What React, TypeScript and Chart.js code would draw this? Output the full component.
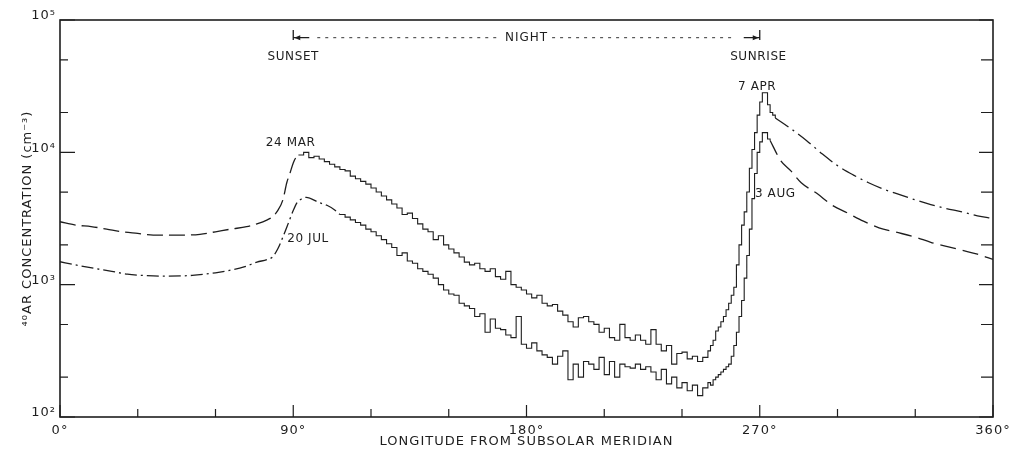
import React, { useEffect, useRef } from "react";
import { Chart, registerables } from "chart.js";

Chart.register(...registerables);

// ---- Data (longitude in degrees from subsolar meridian, 40Ar concentration in cm^-3) ----

// 24 MAR model curve (day side, before sunset)
const MAR_MODEL_LON = [0, 6, 12, 18, 24, 30, 36, 42, 48, 54, 60, 66, 72, 76, 80, 82, 84, 86, 87.5, 88.7, 90, 91, 92];
const MAR_MODEL_CONC = [2990, 2820, 2750, 2630, 2510, 2440, 2370, 2370, 2370, 2400, 2510, 2630, 2740, 2880, 3090, 3260, 3630, 4370, 5890, 6920, 8320, 9120, 9550];

// 24 MAR -> 7 APR measured (night side) histogram
const MAR_HIST_LON = [
  92, 94, 96, 98, 100, 102, 104, 106, 108, 110, 112, 114, 116, 118, 120, 122, 124, 126, 128, 130,
  132, 134, 136, 138, 140, 142, 144, 146, 148, 150, 152, 154, 156, 158, 160, 162, 164, 166, 168, 170,
  172, 174, 176, 178, 180, 182, 184, 186, 188, 190, 192, 194, 196, 198, 200, 202, 204, 206, 208, 210,
  212, 214, 216, 218, 220, 222, 224, 226, 228, 230, 232, 234, 236, 238, 240, 242, 244, 246, 248,
  250, 251, 252, 253, 254, 255, 256, 257, 258, 259, 260, 261, 262, 263, 264, 265, 266, 267, 268, 269,
  270, 271, 272, 273, 274, 275, 276,
];
const MAR_HIST_CONC = [
  9550, 10000, 9120, 9330, 8910, 8510, 8130, 7760, 7410, 7240, 6610, 6310, 6030, 5750, 5370, 5010, 4680, 4370, 4070, 3800,
  3390, 3470, 3160, 2880, 2630, 2510, 2190, 2340, 2000, 1860, 1740, 1620, 1480, 1410, 1450, 1320, 1260, 1320, 1150, 1100,
  1260, 1000, 955, 912, 851, 794, 832, 724, 692, 708, 631, 589, 525, 479, 562, 575, 525, 501, 437, 468,
  398, 380, 501, 398, 380, 417, 380, 355, 457, 355, 316, 347, 251, 302, 309, 275, 288, 263, 282,
  316, 347, 380, 447, 479, 525, 575, 646, 724, 832, 955, 1410, 2000, 2820, 3550, 5010, 7590, 10500, 14100, 19100,
  24000, 28200, 28200, 22900, 20000, 19100, 18200,
];

// 7 APR model curve (after sunrise)
const APR_MODEL_LON = [276, 282, 288, 294, 300, 306, 312, 318, 324, 330, 336, 342, 348, 354, 360];
const APR_MODEL_CONC = [18200, 15100, 12300, 9770, 7940, 6760, 5890, 5250, 4790, 4370, 4030, 3760, 3550, 3310, 3160];

// 20 JUL model curve (day side, before sunset)
const JUL_MODEL_LON = [0, 6, 13, 20, 26, 32, 40, 51, 60, 66, 71, 76, 80, 82, 84, 86, 88, 89, 90, 91.5, 93, 95, 100, 103, 106, 108];
const JUL_MODEL_CONC = [1490, 1410, 1330, 1260, 1200, 1175, 1160, 1175, 1230, 1290, 1360, 1480, 1550, 1620, 1860, 2290, 2880, 3240, 3630, 4170, 4420, 4570, 4170, 3980, 3670, 3390];

// 20 JUL -> 3 AUG measured (night side) histogram
const JUL_HIST_LON = [
  108, 110, 112, 114, 116, 118, 120, 122, 124, 126, 128, 130, 132, 134, 136, 138, 140, 142, 144, 146,
  148, 150, 152, 154, 156, 158, 160, 162, 164, 166, 168, 170, 172, 174, 176, 178, 180, 182, 184, 186,
  188, 190, 192, 194, 196, 198, 200, 202, 204, 206, 208, 210, 212, 214, 216, 218, 220, 222, 224, 226,
  228, 230, 232, 234, 236, 238, 240, 242, 244, 246, 248,
  250, 251, 252, 253, 254, 255, 256, 257, 258, 259, 260, 261, 262, 263, 264, 265, 266, 267, 268, 269,
  270, 271, 272, 273, 274,
];
const JUL_HIST_CONC = [
  3390, 3240, 3090, 2950, 2820, 2630, 2510, 2340, 2190, 2040, 1910, 1660, 1740, 1510, 1450, 1320, 1260, 1200, 1120, 1000,
  912, 851, 832, 724, 692, 661, 575, 603, 437, 550, 468, 457, 417, 398, 575, 355, 331, 363, 316, 295,
  282, 251, 288, 316, 191, 251, 200, 263, 251, 229, 282, 209, 263, 200, 251, 240, 234, 251, 229, 240,
  219, 191, 229, 178, 200, 166, 182, 158, 174, 145, 166,
  182, 174, 191, 200, 209, 219, 229, 240, 251, 288, 347, 437, 575, 759, 1120, 1660, 2630, 4470, 6920, 10000,
  12000, 14100, 14100, 12600, 12300,
];

// 3 AUG model curve (after sunrise)
const AUG_MODEL_LON = [274, 278, 282, 286, 292, 298, 304, 310, 316, 322, 330, 336, 342, 348, 354, 360];
const AUG_MODEL_CONC = [12300, 8710, 7240, 5890, 4900, 3980, 3470, 3020, 2690, 2510, 2290, 2090, 1950, 1820, 1700, 1550];

// ---- Axis ticks ----
const X_LABEL_TICKS = [0, 90, 180, 270, 360];
const X_MINOR_TICKS = [30, 60, 120, 150, 210, 240, 300, 330];
const Y_MAJOR_TICKS = [100, 1000, 10000, 100000];
const Y_MINOR_TICKS = [200, 500, 2000, 5000, 20000, 50000];
const Y_TICK_LABELS: Record<number, string> = { 100: "10²", 1000: "10³", 10000: "10⁴", 100000: "10⁵" };

// ---- Annotations ----
const NIGHT_START = 90;
const NIGHT_END = 270;
const NIGHT_CENTER = 180;
const NIGHT_LEVEL = 73500;
const NIGHT_BAR_TOP = 84000;
const NIGHT_BAR_BOTTOM = 70700;
const LABEL_TEXTS = ["SUNSET", "SUNRISE", "24 MAR", "20 JUL", "7 APR", "3 AUG"];
const LABEL_LON = [90, 269.5, 89, 95.7, 269, 276];
const LABEL_CONC = [52500, 52500, 11700, 2210, 31200, 4840];

const FONT = '"DejaVu Sans", sans-serif';
const INK = "#1e1e1e";

const pts = (xs: number[], ys: number[]) => xs.map((x, i) => ({ x, y: ys[i] }));

const framePlugin = {
  id: "framePlugin",
  beforeDraw(chart: any) {
    chart.ctx.letterSpacing = "1px";
  },
  afterDraw(chart: any) {
    const { ctx, chartArea, scales } = chart;
    const { left, right, top, bottom } = chartArea;
    const x = scales.x;
    const y = scales.y;
    ctx.save();
    ctx.strokeStyle = INK;
    ctx.fillStyle = INK;
    ctx.setLineDash([]);
    ctx.lineWidth = 1.6;
    ctx.strokeRect(left, top, right - left, bottom - top);

    ctx.lineWidth = 1.2;
    ctx.beginPath();
    for (const v of X_LABEL_TICKS) {
      const px = x.getPixelForValue(v);
      ctx.moveTo(px, bottom);
      ctx.lineTo(px, bottom - 12);
    }
    for (const v of X_MINOR_TICKS) {
      const px = x.getPixelForValue(v);
      ctx.moveTo(px, bottom);
      ctx.lineTo(px, bottom - 8);
    }
    for (const v of Y_MAJOR_TICKS) {
      const py = y.getPixelForValue(v);
      ctx.moveTo(left, py);
      ctx.lineTo(left + 15, py);
      ctx.moveTo(right, py);
      ctx.lineTo(right - 14, py);
    }
    for (const v of Y_MINOR_TICKS) {
      const py = y.getPixelForValue(v);
      ctx.moveTo(left, py);
      ctx.lineTo(left + 8, py);
      ctx.moveTo(right, py);
      ctx.lineTo(right - 12, py);
    }
    ctx.stroke();

    // NIGHT interval marker
    ctx.font = `12px ${FONT}`;
    ctx.letterSpacing = "1px";
    const xs = x.getPixelForValue(NIGHT_START);
    const xe = x.getPixelForValue(NIGHT_END);
    const xm = x.getPixelForValue(NIGHT_CENTER);
    const yl = y.getPixelForValue(NIGHT_LEVEL);
    const yb1 = y.getPixelForValue(NIGHT_BAR_TOP);
    const yb2 = y.getPixelForValue(NIGHT_BAR_BOTTOM);
    const w = ctx.measureText("NIGHT").width;
    ctx.lineWidth = 1.3;
    ctx.beginPath();
    ctx.moveTo(xs, yb1);
    ctx.lineTo(xs, yb2);
    ctx.moveTo(xe, yb1);
    ctx.lineTo(xe, yb2);
    ctx.moveTo(xs, yl);
    ctx.lineTo(xs + 16, yl);
    ctx.moveTo(xe, yl);
    ctx.lineTo(xe - 16, yl);
    ctx.stroke();
    ctx.beginPath();
    ctx.moveTo(xs + 1, yl);
    ctx.lineTo(xs + 7, yl - 2.5);
    ctx.lineTo(xs + 7, yl + 2.5);
    ctx.closePath();
    ctx.moveTo(xe - 1, yl);
    ctx.lineTo(xe - 7, yl - 2.5);
    ctx.lineTo(xe - 7, yl + 2.5);
    ctx.closePath();
    ctx.fill();
    ctx.lineWidth = 0.9;
    ctx.setLineDash([3, 5]);
    ctx.beginPath();
    ctx.moveTo(xs + 24, yl);
    ctx.lineTo(xm - w / 2 - 4, yl);
    ctx.moveTo(xm + w / 2 + 4, yl);
    ctx.lineTo(xe - 24, yl);
    ctx.stroke();
    ctx.setLineDash([]);
    ctx.textAlign = "center";
    ctx.textBaseline = "middle";
    ctx.fillText("NIGHT", xm, yl + 0.5);

    // curve and terminator labels
    ctx.font = `12px ${FONT}`;
    ctx.letterSpacing = "0.6px";
    LABEL_TEXTS.forEach((t, i) => {
      ctx.fillText(t, x.getPixelForValue(LABEL_LON[i]), y.getPixelForValue(LABEL_CONC[i]));
    });
    ctx.restore();
    ctx.letterSpacing = "0px";
  },
};

export default function App() {
  const canvasRef = useRef<HTMLCanvasElement | null>(null);

  useEffect(() => {
    document.body.style.margin = "0";
    const canvas = canvasRef.current;
    if (!canvas) return;
    const line = (data: any[], dash: number[], stepped: boolean) => ({
      data,
      borderColor: INK,
      borderWidth: stepped ? 1.1 : 1.3,
      borderDash: dash,
      pointRadius: 0,
      fill: false,
      stepped: stepped ? true : false,
      tension: 0,
      cubicInterpolationMode: stepped ? "default" : "monotone",
    });
    const chart = new Chart(canvas, {
      type: "line",
      data: {
        datasets: [
          { label: "24 MAR model", ...line(pts(MAR_MODEL_LON, MAR_MODEL_CONC), [16, 6], false) },
          { label: "24 MAR - 7 APR", ...line(pts(MAR_HIST_LON, MAR_HIST_CONC), [], true) },
          { label: "7 APR model", ...line(pts(APR_MODEL_LON, APR_MODEL_CONC), [16, 5, 2, 5], false) },
          { label: "20 JUL model", ...line(pts(JUL_MODEL_LON, JUL_MODEL_CONC), [12, 4, 2, 4], false) },
          { label: "20 JUL - 3 AUG", ...line(pts(JUL_HIST_LON, JUL_HIST_CONC), [], true) },
          { label: "3 AUG model", ...line(pts(AUG_MODEL_LON, AUG_MODEL_CONC), [16, 7], false) },
        ] as any,
      },
      options: {
        responsive: false,
        animation: false,
        devicePixelRatio: 1,
        layout: { padding: { left: 0, right: 33, top: 20, bottom: 0 } },
        plugins: { legend: { display: false }, tooltip: { enabled: false } },
        scales: {
          x: {
            type: "linear",
            min: 0,
            max: 360,
            grid: { display: false, drawTicks: false },
            border: { display: false },
            ticks: {
              stepSize: 90,
              autoSkip: false,
              maxRotation: 0,
              padding: 6,
              color: INK,
              font: { family: FONT, size: 13 },
              callback: (v: any) => `${v}°`,
            },
            title: {
              display: true,
              text: "LONGITUDE FROM SUBSOLAR MERIDIAN",
              color: INK,
              font: { family: FONT, size: 13 },
              padding: { top: 0, bottom: 6 },
            },
            afterFit: (s: any) => {
              s.height = 38;
            },
          },
          y: {
            type: "logarithmic",
            min: 100,
            max: 100000,
            grid: { display: false, drawTicks: false },
            border: { display: false },
            ticks: {
              autoSkip: false,
              padding: 4,
              labelOffset: -4,
              color: INK,
              font: { family: FONT, size: 13 },
              callback: (v: any) => {
                const n = Number(v);
                const e = Math.log10(n);
                if (Math.abs(e - Math.round(e)) < 1e-6) return Y_TICK_LABELS[Math.round(n)] ?? "";
                return "";
              },
            },
            title: {
              display: true,
              text: "⁴⁰AR CONCENTRATION (cm⁻³)",
              color: INK,
              font: { family: FONT, size: 13 },
              padding: { top: 20, bottom: 0 },
            },
            afterFit: (s: any) => {
              s.width = 60;
            },
          },
        },
      },
      plugins: [framePlugin],
    } as any);
    return () => chart.destroy();
  }, []);

  return (
    <div style={{ position: "fixed", left: 0, top: 0, width: 1026, height: 455, background: "#fff" }}>
      <canvas ref={canvasRef} width={1026} height={455} style={{ display: "block", width: 1026, height: 455 }} />
    </div>
  );
}
